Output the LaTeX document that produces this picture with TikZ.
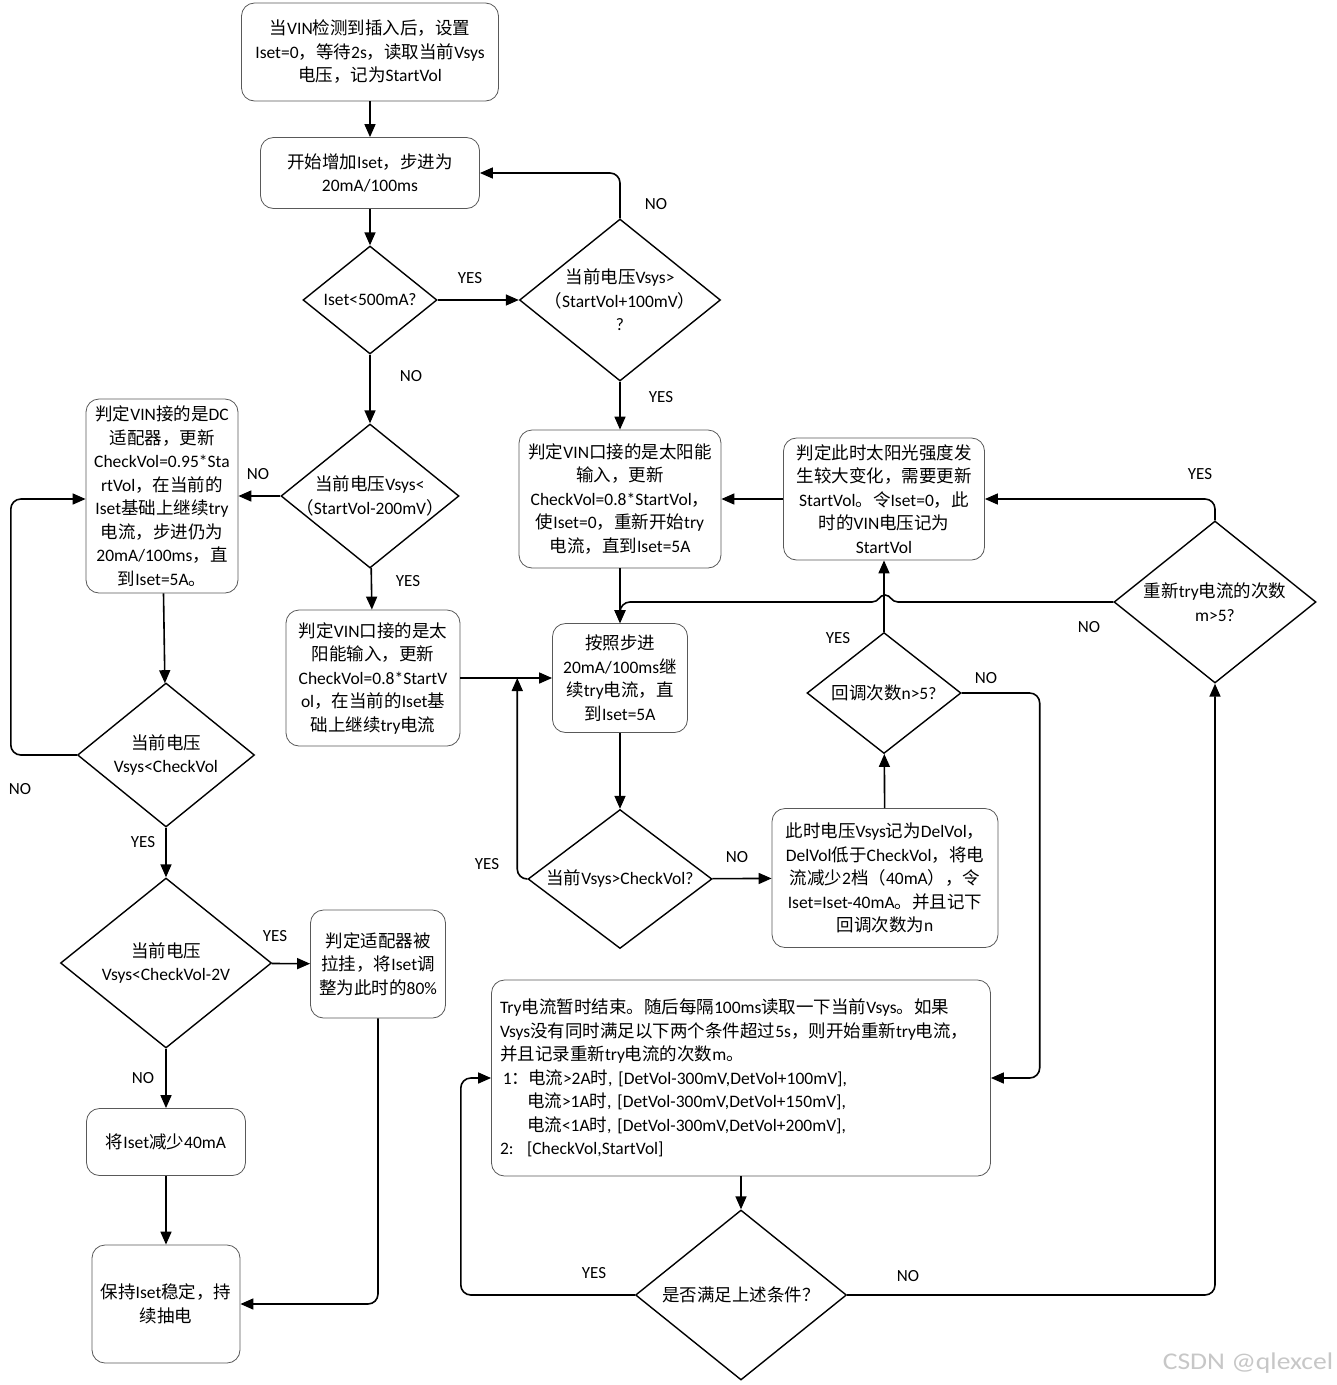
\documentclass[tikz,border=0pt]{standalone}
\usepackage{fontspec}
\setmainfont{Carlito}
\newfontfamily\latinfont{Carlito}
\newfontfamily\cjkfont{Noto Sans CJK SC}
\newfontfamily\wmfont{Liberation Sans}
\XeTeXinterchartokenstate=1
\newXeTeXintercharclass\cjkclass
\newcommand\markcjk[2]{\count255=#1
  \loop\XeTeXcharclass\count255=\cjkclass
  \ifnum\count255<#2 \advance\count255 by 1 \repeat}
\markcjk{"3000}{"303F}
\markcjk{"4E00}{"9FFF}
\markcjk{"FF00}{"FFEF}
\XeTeXinterchartoks 0 \cjkclass = {\cjkfont}
\XeTeXinterchartoks 4095 \cjkclass = {\cjkfont}
\XeTeXinterchartoks \cjkclass 0 = {\latinfont}
\XeTeXinterchartoks 4095 0 = {\latinfont}
\usetikzlibrary{arrows.meta, shapes.geometric, calc}

\tikzset{
  box/.style={draw=black!65, line width=0.8pt, rounded corners=13pt, align=center, inner sep=0pt, font=\fontsize{17.5}{23.5}\selectfont},
  dia/.style={draw, line width=1.4pt, diamond, inner sep=0pt},
  dtxt/.style={align=center, font=\fontsize{17.5}{23.5}\selectfont},
  flow/.style={line width=1.6pt, -{Triangle[length=13pt,width=11pt]}, rounded corners=10pt},
  lbl/.style={font=\fontsize{17}{18}\selectfont},
}

\begin{document}
\begin{tikzpicture}[x=1pt, y=-1pt]
\useasboundingbox[fill=white] (0,0) rectangle (1337,1385);

\node[box, minimum width=257pt, minimum height=98pt] (start) at (370,52) {当VIN检测到插入后，设置\\Iset=0，等待2s，读取当前Vsys\\电压，记为StartVol};
\node[box, minimum width=219pt, minimum height=71pt] (incr) at (370,173) {开始增加Iset，步进为\\20mA/100ms};
\node[dia, minimum width=134pt, minimum height=108pt, label={[dtxt]center:Iset<500mA?}] (isetchk) at (370,300) {};
\node[dia, minimum width=201pt, minimum height=162pt, label={[dtxt]center:当前电压Vsys>\\（StartVol+100mV）\\?}] (risechk) at (620,300) {};
\node[dia, minimum width=178pt, minimum height=144pt, label={[dtxt]center:当前电压Vsys<\\（StartVol-200mV）}] (dropchk) at (370,496) {};
\node[box, minimum width=152pt, minimum height=194pt] (dcad) at (162,496) {判定VIN接的是DC\\适配器，更新\\CheckVol=0.95*Sta\\rtVol，在当前的\\Iset基础上继续try\\电流，步进仍为\\20mA/100ms，直\\到Iset=5A。};
\node[box, minimum width=174pt, minimum height=136pt] (solarkeep) at (373,678) {判定VIN口接的是太\\阳能输入，更新\\CheckVol=0.8*StartV\\ol，在当前的Iset基\\础上继续try电流};
\node[box, minimum width=202pt, minimum height=138pt] (solarnew) at (620,499) {判定VIN口接的是太阳能\\输入，更新\\CheckVol=0.8*StartVol，\\使Iset=0，重新开始try\\电流，直到Iset=5A};
\node[box, minimum width=201pt, minimum height=122pt] (sunchg) at (884,499) {判定此时太阳光强度发\\生较大变化，需要更新\\StartVol。令Iset=0，此\\时的VIN电压记为\\StartVol};
\node[box, minimum width=135pt, minimum height=109pt] (trystep) at (620,678) {按照步进\\20mA/100ms继\\续try电流，直\\到Iset=5A};
\node[dia, minimum width=154pt, minimum height=121pt, label={[dtxt]center:回调次数n>5?}] (nchk) at (884,693) {};
\node[dia, minimum width=202pt, minimum height=162pt, label={[dtxt]center:重新try电流的次数\\m>5?}] (mchk) at (1215,602) {};
\node[dia, minimum width=177pt, minimum height=144pt, label={[dtxt]center:当前电压\\Vsys<CheckVol}] (dcchk) at (166,755) {};
\node[dia, minimum width=184pt, minimum height=139pt, label={[dtxt]center:当前Vsys>CheckVol?}] (solarchk) at (620,879) {};
\node[box, minimum width=226pt, minimum height=139pt] (delvol) at (885,878) {此时电压Vsys记为DelVol，\\DelVol低于CheckVol，将电\\流减少2档（40mA），令\\Iset=Iset-40mA。并且记下\\回调次数为n};
\node[dia, minimum width=211pt, minimum height=170pt, label={[dtxt]center:当前电压\\Vsys<CheckVol-2V}] (pullchk) at (166,963) {};
\node[box, minimum width=135pt, minimum height=108pt] (pulled) at (378,964) {判定适配器被\\拉挂，将Iset调\\整为此时的80\%};
\node[box, minimum width=159pt, minimum height=67pt] (dec) at (166,1142) {将Iset减少40mA};
\node[box, minimum width=148pt, minimum height=118pt] (hold) at (166,1304) {保持Iset稳定，持\\续抽电};
\node[box, align=left, text width=482pt, inner xsep=8.5pt, minimum height=196pt] (watch) at (741,1078) {Try电流暂时结束。随后每隔100ms读取一下当前Vsys。如果\\Vsys没有同时满足以下两个条件超过5s，则开始重新try电流，\\并且记录重新try电流的次数m。\\\makebox[28pt][l]{\,1：}电流>2A时, [DetVol-300mV,DetVol+100mV],\\\hspace*{27pt}电流>1A时, [DetVol-300mV,DetVol+150mV],\\\hspace*{27pt}电流<1A时, [DetVol-300mV,DetVol+200mV],\\\makebox[27pt][l]{2:}[CheckVol,StartVol]};
\node[dia, minimum width=211pt, minimum height=170pt, label={[dtxt]center:是否满足上述条件？}] (okchk) at (741,1295) {};

\coordinate (join) at ($(solarkeep.east)!0.62!(trystep.west)$);
\coordinate (hopR) at ($(nchk.north |- mchk.west)+(14,0)$);
\coordinate (hopT) at ($(nchk.north |- mchk.west)+(1,-7)$);
\coordinate (hopL) at ($(nchk.north |- mchk.west)+(-12,0)$);

\draw[flow] (start) -- (incr);
\draw[flow] (incr) -- (isetchk);
\draw[flow] (isetchk) -- (risechk);
\draw[flow] (risechk.north) |- (incr.east);
\draw[flow] (isetchk) -- (dropchk);
\draw[flow] (dropchk) -- (dcad);
\draw[flow] (dropchk) -- (solarkeep);
\draw[flow] (risechk) -- (solarnew);
\draw[flow] (solarnew) -- (trystep);
\draw[flow] (solarkeep) -- (trystep);
\draw[flow] (dcad) -- (dcchk);
\draw[flow] (dcchk.west) -- ++(-66,0) |- ([yshift=-3pt]dcad.west);
\draw[flow] (dcchk) -- (pullchk);
\draw[flow] (pullchk) -- (pulled);
\draw[flow] (pullchk) -- (dec);
\draw[flow] (dec) -- (hold);
\draw[flow] (pulled.south) |- (hold.east);
\draw[flow] (trystep) -- (solarchk);
\draw[flow] (solarchk.west) -| (join);
\draw[flow] (solarchk) -- (delvol);
\draw[flow] (delvol) -- (nchk);
\draw[flow] (nchk) -- (sunchg);
\draw[flow] (nchk.east) -- ++(78,0) |- (watch.east);
\draw[flow, sharp corners] (mchk.west) -- (hopR) .. controls +(-7,0) and +(6,0) .. (hopT) .. controls +(-6,0) and +(7,0) .. (hopL) [rounded corners=10pt] -| (trystep.north);
\draw[flow] (mchk.north) |- (sunchg.east);
\draw[flow] (sunchg) -- (solarnew);
\draw[flow] (watch) -- (okchk);
\draw[flow] (okchk.west) -- ++(-174,0) |- (watch.west);
\draw[flow] (okchk.east) -| (mchk.south);

\node[lbl] (y1) at (470,278) {YES};
\node[lbl] (n1) at (656,204) {NO};
\node[lbl] (n2) at (411,376) {NO};
\node[lbl] (y2) at (661,397) {YES};
\node[lbl] (n3) at (258,474) {NO};
\node[lbl] (y3) at (408,581) {YES};
\node[lbl] (n4) at (20,789) {NO};
\node[lbl] (y4) at (143,842) {YES};
\node[lbl] (y5) at (275,936) {YES};
\node[lbl] (n5) at (143,1078) {NO};
\node[lbl] (y6) at (487,864) {YES};
\node[lbl] (n6) at (737,857) {NO};
\node[lbl] (y7) at (838,638) {YES};
\node[lbl] (n7) at (986,678) {NO};
\node[lbl] (n8) at (1089,627) {NO};
\node[lbl] (y8) at (1200,474) {YES};
\node[lbl] (y9) at (594,1273) {YES};
\node[lbl] (n9) at (908,1276) {NO};
\node[font=\wmfont\fontsize{24}{26}\selectfont, text=black!22, xscale=1.15] (wm) at (1248,1363) {CSDN @qlexcel};
\end{tikzpicture}
\end{document}
